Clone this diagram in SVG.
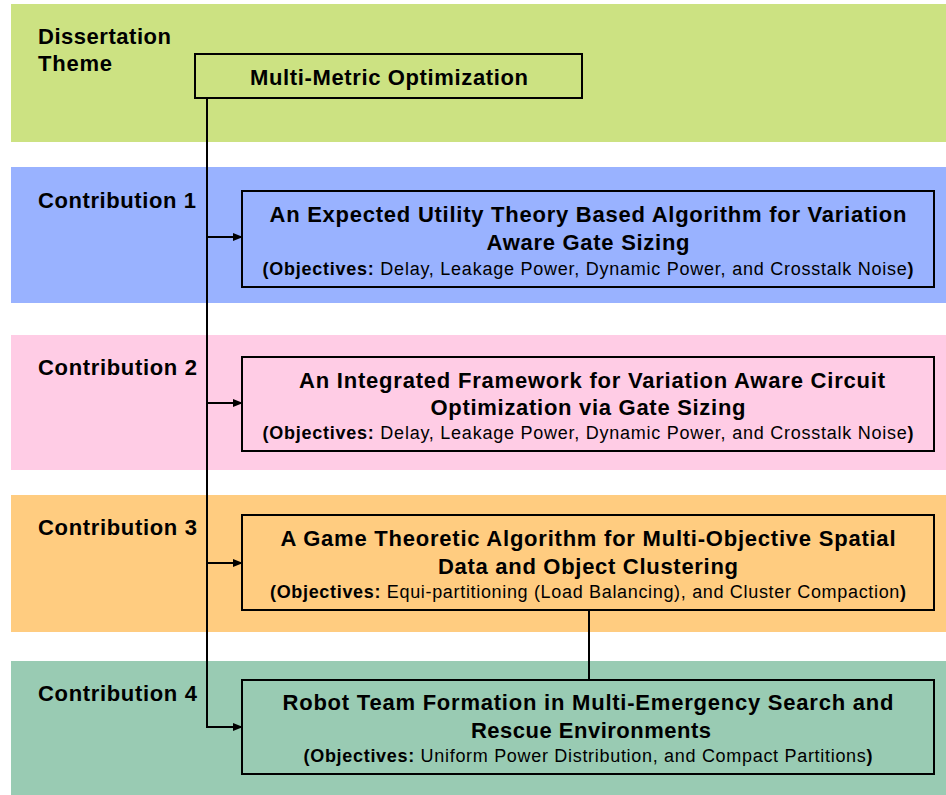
<svg xmlns="http://www.w3.org/2000/svg" width="946" height="795" viewBox="0 0 946 795">
  <defs>
    <style>
      .band-label { font-family: "Liberation Sans", Arial, sans-serif; font-weight: bold; font-size: 22px; fill: #000; }
      .box { stroke: #000; stroke-width: 2; }
      .title { font-family: "Liberation Sans", Arial, sans-serif; font-weight: bold; font-size: 22px; fill: #000; text-anchor: middle; }
      .obj { font-family: "Liberation Sans", Arial, sans-serif; font-size: 18px; fill: #000; text-anchor: middle; }
      .obj tspan.b { font-weight: bold; }
      .conn { stroke: #000; stroke-width: 2; fill: none; }
    </style>
    <marker id="arrow" markerWidth="10" markerHeight="10" refX="9" refY="5" orient="auto" markerUnits="userSpaceOnUse">
      <path d="M0,1 L10,5 L0,9 Z" fill="#000"/>
    </marker>
  </defs>

  <rect width="946" height="795" fill="#fff"/>

  <!-- background bands -->
  <rect x="11" y="4" width="935" height="138" fill="#CCE282"/>
  <rect x="11" y="167" width="935" height="136" fill="#99B2FF"/>
  <rect x="11" y="335" width="935" height="135" fill="#FFCCE5"/>
  <rect x="11" y="495" width="935" height="137" fill="#FFCC80"/>
  <rect x="11" y="661" width="935" height="134" fill="#99CBB3"/>

  <!-- band labels -->
  <text class="band-label" x="38" y="44" textLength="133" lengthAdjust="spacing">Dissertation</text>
  <text class="band-label" x="38" y="71" textLength="74" lengthAdjust="spacing">Theme</text>
  <text class="band-label" x="38" y="208" textLength="158" lengthAdjust="spacing">Contribution 1</text>
  <text class="band-label" x="38" y="375" textLength="159" lengthAdjust="spacing">Contribution 2</text>
  <text class="band-label" x="38" y="535" textLength="159" lengthAdjust="spacing">Contribution 3</text>
  <text class="band-label" x="38" y="701" textLength="159" lengthAdjust="spacing">Contribution 4</text>

  <!-- connectors -->
  <g id="connectors">
    <path class="conn" d="M207,98 V727"/>
    <path class="conn" d="M207,237 H242" marker-end="url(#arrow)"/>
    <path class="conn" d="M207,403 H242" marker-end="url(#arrow)"/>
    <path class="conn" d="M207,563 H242" marker-end="url(#arrow)"/>
    <path class="conn" d="M206,727 H242" marker-end="url(#arrow)"/>
    <path class="conn" d="M589,610 V680"/>
  </g>

  <g id="theme">
    <rect class="box" x="195" y="54" width="387" height="44" fill="#CCE282"/>
    <text class="title" x="389" y="85" textLength="278" lengthAdjust="spacing">Multi-Metric Optimization</text>
  </g>

  <g id="contribution1">
    <rect class="box" x="242" y="191" width="692" height="96" fill="#99B2FF"/>
    <text class="title" x="588" y="222" textLength="637" lengthAdjust="spacing">An Expected Utility Theory Based Algorithm for Variation</text>
    <text class="title" x="588" y="250" textLength="203" lengthAdjust="spacing">Aware Gate Sizing</text>
    <text class="obj" x="588" y="275" textLength="651" lengthAdjust="spacing"><tspan class="b">(Objectives:</tspan> Delay, Leakage Power, Dynamic Power, and Crosstalk Noise<tspan class="b">)</tspan></text>
  </g>

  <g id="contribution2">
    <rect class="box" x="242" y="357" width="692" height="94" fill="#FFCCE5"/>
    <text class="title" x="592" y="388" textLength="586" lengthAdjust="spacing">An Integrated Framework for Variation Aware Circuit</text>
    <text class="title" x="588" y="415" textLength="315" lengthAdjust="spacing">Optimization via Gate Sizing</text>
    <text class="obj" x="588" y="439" textLength="651" lengthAdjust="spacing"><tspan class="b">(Objectives:</tspan> Delay, Leakage Power, Dynamic Power, and Crosstalk Noise<tspan class="b">)</tspan></text>
  </g>

  <g id="contribution3">
    <rect class="box" x="242" y="515" width="692" height="95" fill="#FFCC80"/>
    <text class="title" x="588" y="546" textLength="615" lengthAdjust="spacing">A Game Theoretic Algorithm for Multi-Objective Spatial</text>
    <text class="title" x="588" y="574" textLength="300" lengthAdjust="spacing">Data and Object Clustering</text>
    <text class="obj" x="588" y="598" textLength="636" lengthAdjust="spacing"><tspan class="b">(Objectives:</tspan> Equi-partitioning (Load Balancing), and Cluster Compaction<tspan class="b">)</tspan></text>
  </g>

  <g id="contribution4">
    <rect class="box" x="242" y="680" width="692" height="94" fill="#99CBB3"/>
    <text class="title" x="588" y="710" textLength="611" lengthAdjust="spacing">Robot Team Formation in Multi-Emergency Search and</text>
    <text class="title" x="591" y="738" textLength="240" lengthAdjust="spacing">Rescue Environments</text>
    <text class="obj" x="588" y="762" textLength="569" lengthAdjust="spacing"><tspan class="b">(Objectives:</tspan> Uniform Power Distribution, and Compact Partitions<tspan class="b">)</tspan></text>
  </g>
</svg>
